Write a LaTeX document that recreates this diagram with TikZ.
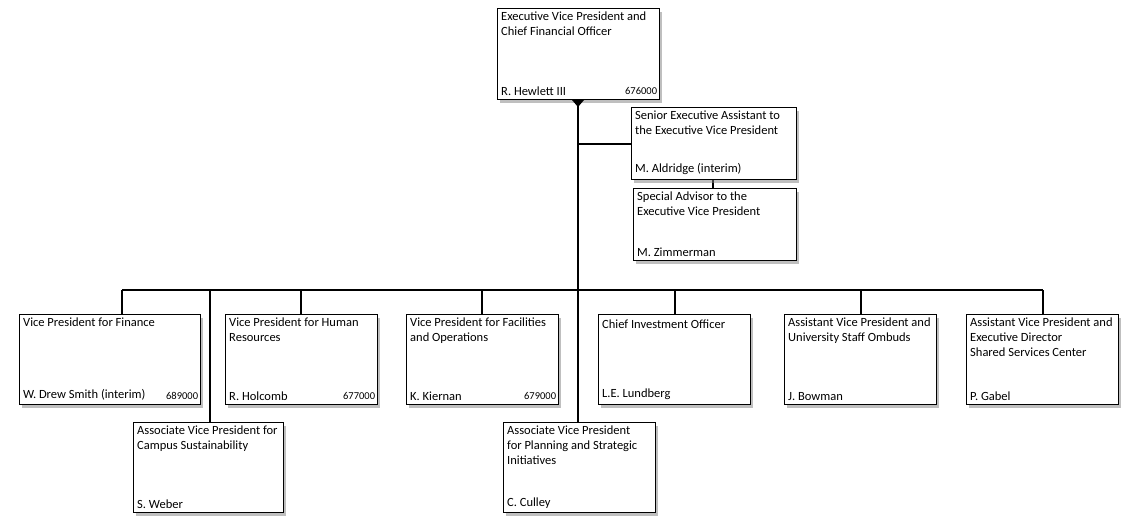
\documentclass[tikz,border=0pt]{standalone}
\usepackage{fontspec}
\setmainfont{Carlito}
\usetikzlibrary{shadows}
\begin{document}
\begin{tikzpicture}[x=1pt,y=-1pt,
    post/.style={draw,line width=1.3pt,fill=white,drop shadow={shadow xshift=2pt,shadow yshift=-3pt,opacity=.5},
      anchor=north west,inner sep=0pt},
    title/.style={anchor=north west,align=left,font=\fontsize{12.5}{15}\selectfont,inner sep=0pt},
    who/.style={anchor=south west,font=\fontsize{12.5}{14}\selectfont,inner sep=0pt},
    code/.style={anchor=south east,font=\fontsize{10.5}{12}\selectfont,inner sep=0pt},
    wire/.style={line width=1.3pt}]
  \useasboundingbox (0,0) rectangle (1136,524);
  % #1 name, #2 x, #3 y, #4 width, #5 height, #6 title, #7 person, #8 number
  \newcommand\post[8]{%
    \node [post,minimum width=#4pt,minimum height=#5pt] (#1) at (#2,#3) {};
    \node [title] at ([shift={(4pt,-4pt)}]#1.north west) {#6};
    \node [who] at ([shift={(4pt,5pt)}]#1.south west) {#7};
    \node [code] at ([shift={(-3pt,6pt)}]#1.south east) {#8};}

  % the connectors go first, so the boxes cover them
  \coordinate (top) at (578,100);
  \coordinate (base) at (578,422);
  \coordinate (busL) at (122,290);
  \coordinate (busR) at (1043,290);
  \coordinate (sea) at (578,144);
  \draw [wire] (top) -- (base);
  \draw [wire] (busL) -- (busR);
  \draw [wire] (sea) -- (631,144);
  \draw [wire] (713,179) -- (713,188);
  \foreach \x/\y in {122/314,210/422,301/314,482/314,675/314,861/314,1043/314}
    \draw [wire] (\x,290) -- (\x,\y);

  % top of the chart
  \post{cfo}{497}{8}{162}{91}{Executive Vice President and\\Chief Financial Officer}{R. Hewlett III}{676000}
  \fill (572,100) -- (584,100) -- (578,107) -- cycle;
  \post{sea}{631}{107}{165}{72}{Senior Executive Assistant to\\the Executive Vice President}{M. Aldridge (interim)}{}
  \post{adv}{633}{188}{163}{72}{Special Advisor to the\\Executive Vice President}{M. Zimmerman}{}

  % first row
  \post{fin}{19}{314}{181}{90}{Vice President for Finance}{W. Drew Smith (interim)}{689000}
  \post{hr}{225}{314}{152}{90}{Vice President for Human\\Resources}{R. Holcomb}{677000}
  \post{fac}{406}{314}{152}{90}{Vice President for Facilities\\and Operations}{K. Kiernan}{679000}
  \post{cio}{598}{314}{152}{90}{\strut Chief Investment Officer}{L.E. Lundberg}{}
  \post{omb}{784}{314}{152}{90}{Assistant Vice President and\\University Staff Ombuds}{J. Bowman}{}
  \post{ssc}{966}{314}{152}{90}{Assistant Vice President and\\Executive Director\\Shared Services Center}{P. Gabel}{}

  % second row
  \post{sus}{133}{422}{150}{90}{Associate Vice President for\\Campus Sustainability}{S. Weber}{}
  \post{plan}{503}{422}{152}{90}{Associate Vice President\\for Planning and Strategic\\Initiatives}{C. Culley}{}
\end{tikzpicture}
\end{document}
